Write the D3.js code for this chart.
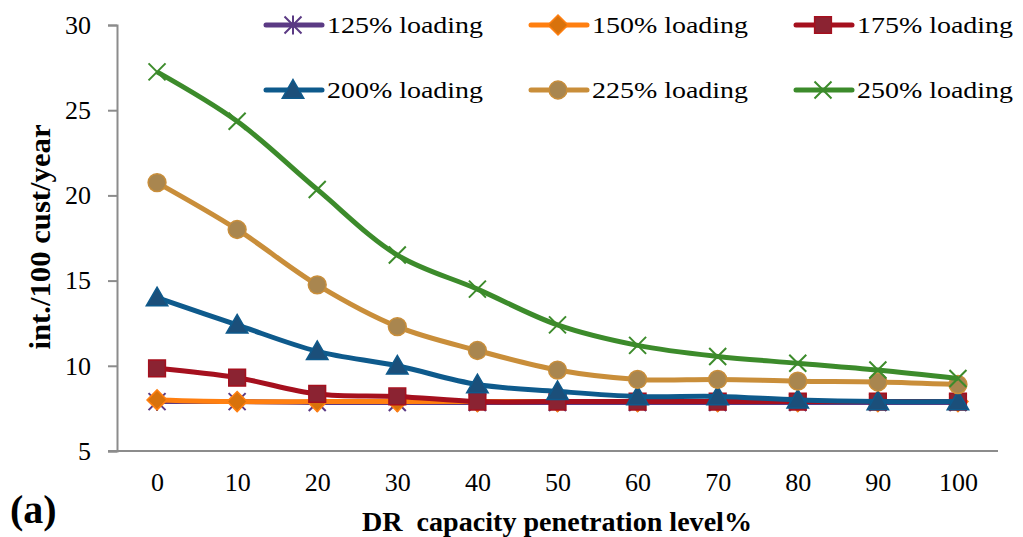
<!DOCTYPE html>
<html>
<head>
<meta charset="utf-8">
<script src="https://cdn.jsdelivr.net/npm/d3@7"></script>
<style>
  html, body { margin: 0; padding: 0; background: #fff; }
  svg { display: block; }
  text { font-family: "Liberation Serif", "DejaVu Serif", serif; fill: #000; }
</style>
</head>
<body>
<svg id="chart" width="1023" height="537"></svg>
<script>
// Penetration levels on the x axis
const penetration = [0, 10, 20, 30, 40, 50, 60, 70, 80, 90, 100];
const yTicks = [5, 10, 15, 20, 25, 30];

// Interruptions per 100 customers per year, one array per loading level
const load125 = [7.9, 7.9, 7.85, 7.85, 7.85, 7.85, 7.85, 7.85, 7.85, 7.85, 7.85];
const load150 = [8.0, 7.9, 7.9, 7.9, 7.9, 7.9, 7.9, 7.9, 7.9, 7.9, 7.9];
const load175 = [9.85, 9.3, 8.35, 8.2, 7.9, 7.9, 7.9, 7.9, 7.9, 7.9, 7.9];
const load200 = [14.0, 12.4, 10.85, 10.0, 8.9, 8.5, 8.2, 8.2, 8.0, 7.9, 7.9];
const load225 = [20.75, 18.0, 14.75, 12.3, 10.9, 9.75, 9.2, 9.2, 9.1, 9.05, 8.9];
const load250 = [27.25, 24.35, 20.35, 16.5, 14.5, 12.4, 11.2, 10.55, 10.15, 9.75, 9.25];

const seriesNames = ["125% loading", "150% loading", "175% loading",
                     "200% loading", "225% loading", "250% loading"];
const seriesValues = [load125, load150, load175, load200, load225, load250];

const styles = [
  { line: "#5b3a84", fill: "none",    stroke: "#5b3a84", marker: "star" },
  { line: "#ff7f10", fill: "#d8720c", stroke: "#ff7f10", marker: "diamond" },
  { line: "#a5101e", fill: "#8b2332", stroke: "#a5101e", marker: "square" },
  { line: "#0e5a8c", fill: "#1b4f7a", stroke: "#0e5a8c", marker: "triangle" },
  { line: "#c98e3a", fill: "#a9864f", stroke: "#c98e3a", marker: "circle" },
  { line: "#3c8b2b", fill: "none",    stroke: "#3c8b2b", marker: "cross" }
];

const svg = d3.select("#chart");
const plot = { left: 117, right: 998, top: 25, bottom: 451 };

const x = d3.scalePoint().domain(penetration).range([plot.left, plot.right]).padding(0.5);
const y = d3.scaleLinear().domain([5, 30]).range([plot.bottom, plot.top]);

// Axes
const yAxis = d3.axisLeft(y).tickValues(yTicks).tickSize(9).tickPadding(17);
const gy = svg.append("g").attr("transform", `translate(${plot.left},0)`).call(yAxis);
gy.select(".domain").attr("stroke", "#8c8c8c").attr("stroke-width", 2);
gy.selectAll(".tick line").attr("stroke", "#8c8c8c").attr("stroke-width", 2);
gy.selectAll(".tick text").attr("font-size", 26);

const xAxis = d3.axisBottom(x).tickSize(0).tickPadding(22);
const gx = svg.append("g").attr("transform", `translate(0,${plot.bottom})`).call(xAxis);
gx.select(".domain").attr("stroke", "#8c8c8c").attr("stroke-width", 2)
  .attr("d", `M${plot.left - 9},0H${plot.right}`);
gx.selectAll(".tick text").attr("font-size", 26);

// Axis titles
svg.append("text")
  .attr("transform", `translate(50,237) rotate(-90)`)
  .attr("text-anchor", "middle")
  .attr("font-size", 29).attr("font-weight", "bold")
  .attr("textLength", 225).attr("lengthAdjust", "spacingAndGlyphs")
  .text("int./100 cust/year");

svg.append("text")
  .attr("x", 557).attr("y", 531)
  .attr("text-anchor", "middle")
  .attr("font-size", 27).attr("font-weight", "bold")
  .attr("textLength", 390).attr("lengthAdjust", "spacingAndGlyphs")
  .style("white-space", "pre")
  .text("DR  capacity penetration level%");

svg.append("text")
  .attr("x", 10).attr("y", 523)
  .attr("font-size", 40).attr("font-weight", "bold")
  .text("(a)");

// Marker drawing
function drawMarker(g, type, st, cx, cy) {
  if (type === "star" || type === "cross") {
    const r = 8.5;
    let d = `M${cx - r},${cy - r}L${cx + r},${cy + r}M${cx - r},${cy + r}L${cx + r},${cy - r}`;
    if (type === "star") d += `M${cx},${cy - r - 1}L${cx},${cy + r + 1}`;
    g.append("path").attr("d", d).attr("stroke", st.stroke).attr("stroke-width", 2)
      .attr("fill", "none");
    return;
  }
  if (type === "diamond") {
    const r = 10;
    g.append("path")
      .attr("d", `M${cx},${cy - r}L${cx + r},${cy}L${cx},${cy + r}L${cx - r},${cy}Z`)
      .attr("fill", st.fill).attr("stroke", st.stroke).attr("stroke-width", 1.5);
    return;
  }
  const sym = { square: d3.symbolSquare, triangle: d3.symbolTriangle,
                circle: d3.symbolCircle }[type];
  const size = { square: 280, triangle: 200, circle: 250 }[type];
  const dy = type === "triangle" ? 2 : 0;
  g.append("path")
    .attr("d", d3.symbol().type(sym).size(size)())
    .attr("transform", `translate(${cx},${cy + dy})`)
    .attr("fill", st.fill).attr("stroke", st.stroke).attr("stroke-width", 1.5);
}

// Series: line then markers, one series at a time
const line = d3.line()
  .x((d, i) => x(penetration[i]))
  .y(d => y(d))
  .curve(d3.curveCatmullRom.alpha(0.5));

seriesValues.forEach((vals, s) => {
  const st = styles[s];
  const g = svg.append("g");
  g.append("path").attr("d", line(vals))
    .attr("fill", "none").attr("stroke", st.line).attr("stroke-width", 5)
    .attr("stroke-linejoin", "round");
  vals.forEach((v, i) => drawMarker(g, st.marker, st, x(penetration[i]), y(v)));
});

// Legend: two rows of three entries
const legend = svg.append("g");
seriesNames.forEach((name, s) => {
  const st = styles[s];
  const col = s % 3, row = Math.floor(s / 3);
  const lx = 266 + col * 265, ly = 25 + row * 65;
  const g = legend.append("g");
  g.append("line").attr("x1", lx).attr("x2", lx + 56).attr("y1", ly).attr("y2", ly)
    .attr("stroke", st.line).attr("stroke-width", 5).attr("stroke-linecap", "round");
  drawMarker(g, st.marker, st, lx + 27, ly);
  g.append("text").attr("x", lx + 61).attr("y", ly + 8)
    .attr("font-size", 24)
    .attr("textLength", 156).attr("lengthAdjust", "spacingAndGlyphs")
    .text(name);
});
</script>
</body>
</html>
